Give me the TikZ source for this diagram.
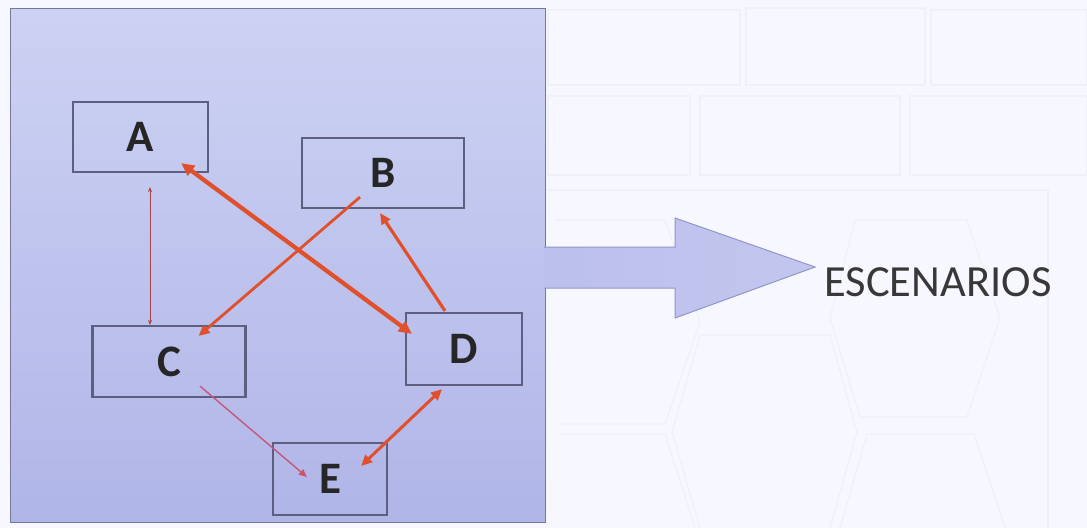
\documentclass[tikz,border=0pt]{standalone}
\usepackage{fontspec}
\setmainfont{Carlito}
\usetikzlibrary{calc,arrows.meta}
\definecolor{panelTop}{HTML}{CDD2F3}
\definecolor{panelBot}{HTML}{B0B5E8}
\definecolor{boxline}{HTML}{5E5E80}
\definecolor{redline}{HTML}{E0502C}
\definecolor{thinred}{HTML}{A8404E}
\definecolor{pinkline}{HTML}{C45878}
\definecolor{ghost}{HTML}{F0F0F6}
\definecolor{arrowfill}{HTML}{BCC0EC}
\definecolor{arrowline}{HTML}{9296C6}
\definecolor{txt}{HTML}{262626}
\tikzset{
  letterbox/.style={draw=boxline, line width=2.2pt, inner sep=0pt, text=txt,
    font=\fontsize{45}{45}\selectfont\bfseries},
  thickedge/.style={draw=redline, line width=4.2pt,
    {Triangle[length=13pt,width=12pt]}-{Triangle[length=13pt,width=12pt]}},
  midedge/.style={draw=redline, line width=2.8pt,
    -{Triangle[length=11pt,width=10pt]}},
  ghostline/.style={draw=ghost, line width=1.2pt},
}
\begin{document}
\begin{tikzpicture}[x=1pt,y=-1pt]
\useasboundingbox (0,0) rectangle (1087,528);
\fill[white!97!blue] (0,0) rectangle (1087,528);
% faint ghost background
\draw[ghostline] (548,10) rectangle (740,85);
\draw[ghostline] (746,8) rectangle (925,85);
\draw[ghostline] (931,10) rectangle (1087,85);
\draw[ghostline] (548,96) rectangle (690,175);
\draw[ghostline] (700,96) rectangle (900,175);
\draw[ghostline] (910,96) rectangle (1087,175);
\draw[ghostline] (545,190) -- (1048,190) -- (1048,528);
\draw[ghostline] (555,220) -- (665,220) -- (700,322) -- (665,424) -- (561,424);
\draw[ghostline] (855,220) -- (967,220) -- (1000,318) -- (967,417) -- (860,417) -- (830,318) -- cycle;
\draw[ghostline] (700,335) -- (830,335) -- (857,432) -- (830,528);
\draw[ghostline] (700,335) -- (672,432) -- (700,528);
\draw[ghostline] (561,434) -- (665,434) -- (695,528);
\draw[ghostline] (867,434) -- (974,434) -- (1005,528);
\draw[ghostline] (867,434) -- (840,528);
% panel
\shade[top color=panelTop, bottom color=panelBot] (10,8) rectangle (545,522);
\draw[draw=arrowline!80!black, line width=1pt] (10,8) rectangle (545,522);
% big arrow
\draw[draw=arrowline, line width=1pt, left color=arrowfill!95!panelBot, right color=arrowfill!90!white]
  (544,247) -- (675,247) -- (675,218) -- (815,267) -- (675,318) -- (675,288) -- (544,288);
\node[text=black!78, font=\fontsize{44.5}{44.5}\selectfont] (esc) at (938,282) {ESCENARIOS};
% nodes
\node[letterbox, minimum width=135pt, minimum height=70pt] (A) at (140.5,137) {A};
\node[letterbox, minimum width=162pt, minimum height=70pt] (B) at (383,173) {B};
\node[letterbox, minimum width=153pt, minimum height=71pt] (C) at (169,361.5) {C};
\node[letterbox, minimum width=116pt, minimum height=72pt] (D) at (464,349) {D};
\node[letterbox, minimum width=114pt, minimum height=72pt] (E) at (330,479) {E};
% edges
\draw[draw=thinred, line width=1pt, {Stealth[length=5pt,width=4pt]}-{Stealth[length=5pt,width=4pt]}]
  ($(A.south)+(9.5,14)$) -- ($(C.north)+(-19,0)$);
\draw[thickedge] ($(D.north west)+(7,22)$) -- ($(A.south east)+(-28,-10)$);
\draw[midedge] ($(B.south)+(-23,-12)$) -- ($(C.north east)+(-48,11)$);
\draw[midedge, line width=3.2pt] ($(D.north)+(-19,-1)$) -- ($(B.south)+(-3,4)$);
\draw[draw=pinkline, line width=1.4pt, -{Triangle[length=8pt,width=7pt,fill=redline]}]
  ($(C.south)+(31,-12)$) -- ($(E.west)+(35,-2)$);
\draw[draw=redline, line width=3pt,
  {Triangle[length=11pt,width=10pt]}-{Triangle[length=11pt,width=10pt]}]
  ($(D.south)+(-22,3)$) -- ($(E.north east)+(-27,24)$);
\end{tikzpicture}
\end{document}
